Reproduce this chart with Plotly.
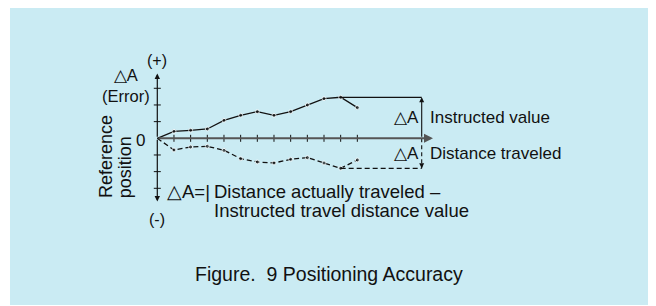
import plotly.graph_objects as go

# ---------------- data ----------------
positions = list(range(13))
instructed = [0, 0.42, 0.48, 0.56, 1.08, 1.38, 1.60, 1.38, 1.60, 2.00, 2.38, 2.46, 1.84]
traveled = [0, -0.70, -0.52, -0.48, -0.72, -1.22, -1.42, -1.48, -1.26, -1.16, -1.48, -1.80, -1.30]
x_ticks = list(range(1, 13))
y_ticks = [-3, -2, -1, 1, 2, 3]

# ---------------- geometry (page-pixel mapping; page body margin is 8px) ----------------
PAGE_OFF = 8
W, H = 648, 298
X0PX, Y0PX, UNIT = 157.3, 138.3, 16.67


def px2x(px):
    return (px - X0PX) / UNIT


def px2y(py):
    return (Y0PX - py) / UNIT


REF_X = px2x(421.7)
X_ARROW = px2x(433)
Y_TOP = px2y(73.5)
Y_BOT = px2y(201.5)

peak_i = instructed.index(max(instructed))
low_i = traveled.index(min(traveled))

FONT = "Liberation Sans, Arial, Helvetica, sans-serif"
BG = "#CAEBF3"
INK = "#111111"

fig = go.Figure()

# data lines
fig.add_trace(go.Scatter(
    x=positions, y=instructed, mode="lines+markers",
    line=dict(color=INK, width=1.3),
    marker=dict(size=[0] + [4] * (len(positions) - 1), color=INK),
    hoverinfo="skip", showlegend=False))
fig.add_trace(go.Scatter(
    x=positions, y=traveled, mode="lines+markers",
    line=dict(color=INK, width=1.3, dash="5px,3px"),
    marker=dict(size=[0] + [4] * (len(positions) - 1), color=INK),
    hoverinfo="skip", showlegend=False))

# reference lines to the right
fig.add_trace(go.Scatter(
    x=[positions[peak_i], REF_X], y=[instructed[peak_i]] * 2, mode="lines",
    line=dict(color=INK, width=1.2), hoverinfo="skip", showlegend=False))
fig.add_trace(go.Scatter(
    x=[positions[low_i], REF_X], y=[traveled[low_i]] * 2, mode="lines",
    line=dict(color=INK, width=1.2, dash="5px,3px"), hoverinfo="skip", showlegend=False))
fig.add_trace(go.Scatter(
    x=[REF_X, REF_X], y=[0, traveled[low_i]], mode="lines",
    line=dict(color=INK, width=1.1, dash="4px,3px"), hoverinfo="skip", showlegend=False))

# tick marks
fig.add_trace(go.Scatter(
    x=x_ticks, y=[0] * len(x_ticks), mode="markers",
    marker=dict(symbol="line-ns-open", size=5, color=INK, line=dict(color=INK, width=1)),
    hoverinfo="skip", showlegend=False))
fig.add_trace(go.Scatter(
    x=[0] * len(y_ticks), y=y_ticks, mode="markers",
    marker=dict(symbol="line-ew-open", size=5, color=INK, line=dict(color=INK, width=1)),
    hoverinfo="skip", showlegend=False))

annotations = []


def arrow(x, y, ax, ay, color=INK, width=1.2):
    annotations.append(dict(
        x=x, y=y, ax=ax, ay=ay, xref="x", yref="y", axref="x", ayref="y",
        text="", showarrow=True, arrowhead=2, arrowsize=0.9, arrowwidth=width,
        arrowcolor=color, standoff=0, startstandoff=0))


# axes arrows
arrow(X_ARROW, 0, 0, 0, color="#555555", width=2)
arrow(0, Y_TOP, 0, 0)
arrow(0, Y_BOT, 0, 0)
# ΔA arrows at right
arrow(REF_X, instructed[peak_i], REF_X, 0, width=1.1)
arrow(REF_X, traveled[low_i], REF_X, traveled[low_i] + 0.35, width=1.1)


def label(text, px, py, size, xanchor="center", angle=0):
    annotations.append(dict(
        x=px2x(px), y=px2y(py), xref="x", yref="y", text=text, showarrow=False,
        xanchor=xanchor, yanchor="middle", textangle=angle, borderpad=0,
        font=dict(family=FONT, size=size, color=INK)))


label("(+)", 157, 60.5, 16)
label("△A<br>(Error)", 125.5, 85, 16.5)
label("0", 140, 140.2, 17)
label("Reference", 105.4, 156.7, 18, angle=-90)
label("position", 124.7, 167.5, 18, angle=-90)
label("(-)", 157, 219, 16)

label("△A", 420, 117.7, 17, xanchor="right")
label("Instructed value", 428.5, 117.7, 17, xanchor="left")
label("△A", 420, 153, 17, xanchor="right")
label("Distance traveled", 428.5, 153, 17, xanchor="left")

label("△A=|", 166, 191.7, 18.5, xanchor="left")
label("Distance actually traveled –", 212.8, 191.7, 18.5, xanchor="left")
label("Instructed travel distance value", 212.8, 210.3, 18.5, xanchor="left")

label("Figure.\u00a0\u00a09 Positioning Accuracy", 328.9, 273.5, 19.5)

fig.update_layout(
    width=W, height=H, autosize=False,
    margin=dict(l=0, r=0, t=0, b=0, pad=0),
    paper_bgcolor="white", plot_bgcolor="rgba(0,0,0,0)",
    xaxis=dict(visible=False, range=[px2x(PAGE_OFF), px2x(PAGE_OFF + W)], fixedrange=True),
    yaxis=dict(visible=False, range=[px2y(PAGE_OFF + H), px2y(PAGE_OFF)], fixedrange=True),
    shapes=[dict(type="rect", xref="paper", yref="paper",
                 x0=(10 - PAGE_OFF) / W, x1=(650 - PAGE_OFF) / W,
                 y0=1 - (305 - PAGE_OFF) / H, y1=1,
                 fillcolor=BG, line=dict(width=0), layer="below")],
    annotations=annotations,
)

fig.write_html("out.html")
